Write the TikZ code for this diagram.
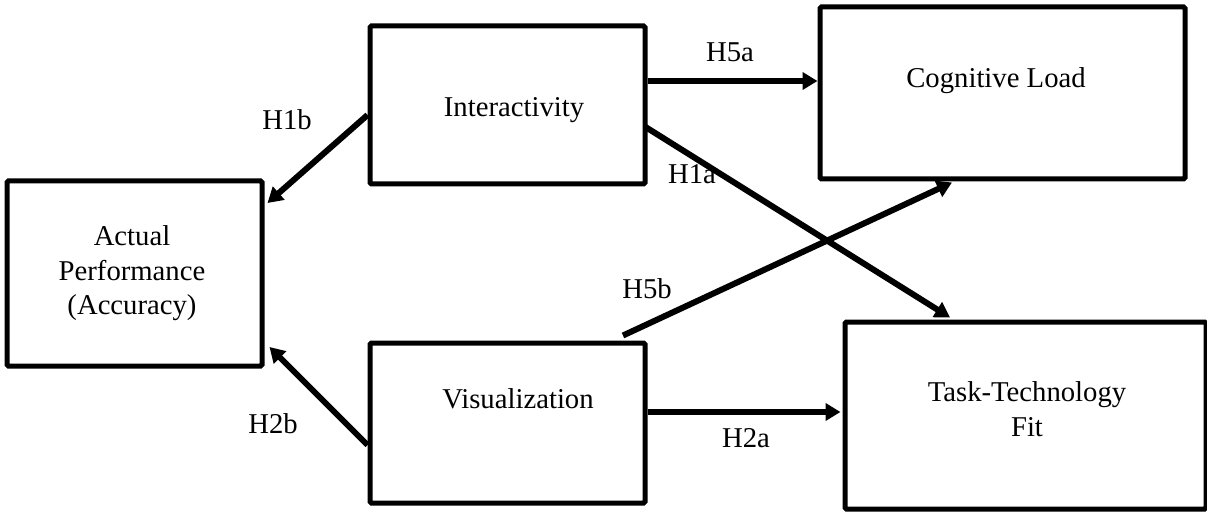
\documentclass[tikz,border=0pt]{standalone}
\usepackage{fontspec}
\setmainfont{Liberation Serif}
\usetikzlibrary{arrows.meta,calc}
\begin{document}
\begin{tikzpicture}[x=1pt,y=-1pt,
  box/.style={draw=black,line width=5pt,rectangle,rounded corners=1.5pt,inner sep=0pt},
  txt/.style={inner sep=0pt,font=\fontsize{28.7}{34.5}\selectfont,align=center},
  lbl/.style={inner sep=0pt,font=\fontsize{28.7}{34.5}\selectfont,anchor=base},
  arr/.style={line width=6pt,-{Triangle[length=15pt,width=17pt]}}]
\useasboundingbox (0,0) rectangle (1207,513);
% boxes
\node[box,minimum width=255pt,minimum height=185pt] (perf) at (134.5,273.5) {};
\node[box,minimum width=275pt,minimum height=158pt] (inter) at (507.5,105) {};
\node[box,minimum width=365pt,minimum height=172pt] (cog) at (1002.5,93) {};
\node[box,minimum width=275pt,minimum height=160pt] (vis) at (507.5,423) {};
\node[box,minimum width=361pt,minimum height=187pt] (ttf) at (1025.5,415.5) {};
% box texts
\node[txt,anchor=north] (perftxt) at (132,225.5) {Actual\\Performance\\(Accuracy)};
\node[txt,anchor=base] (intertxt) at (514,117) {Interactivity};
\node[txt,anchor=base] (cogtxt) at (996,88) {Cognitive Load};
\node[txt,anchor=base] (vistxt) at (518,408) {Visualization};
\node[txt,anchor=north] (ttftxt) at (1027,381.5) {Task-Technology\\Fit};
% connectors
\draw[arr] ($(inter.east)+(0,-24)$) -- ($(cog.west)+(0,-12)$);
\draw[arr] ($(inter.west)+(0,10)$) -- ($(perf.east)+(3,-70.5)$);
\draw[arr] ($(inter.east)+(-2,22)$) -- ($(ttf.north)+(-75.5,-2)$);
\draw[arr] ($(vis.north)+(115.5,-5)$) -- ($(cog.south)+(-50.5,1)$);
\draw[arr] ($(vis.east)+(0,-11)$) -- ($(ttf.west)+(-2,-3.5)$);
\draw[arr] ($(vis.west)+(0,22)$) -- ($(perf.east)+(5,73.5)$);
% labels
\node[lbl] (h5a) at (730,62) {H5a};
\node[lbl] (h1b) at (287,130) {H1b};
\node[lbl] (h1a) at (692,184) {H1a};
\node[lbl] (h5b) at (647,298) {H5b};
\node[lbl] (h2a) at (746,447) {H2a};
\node[lbl] (h2b) at (273,433) {H2b};
\end{tikzpicture}
\end{document}
